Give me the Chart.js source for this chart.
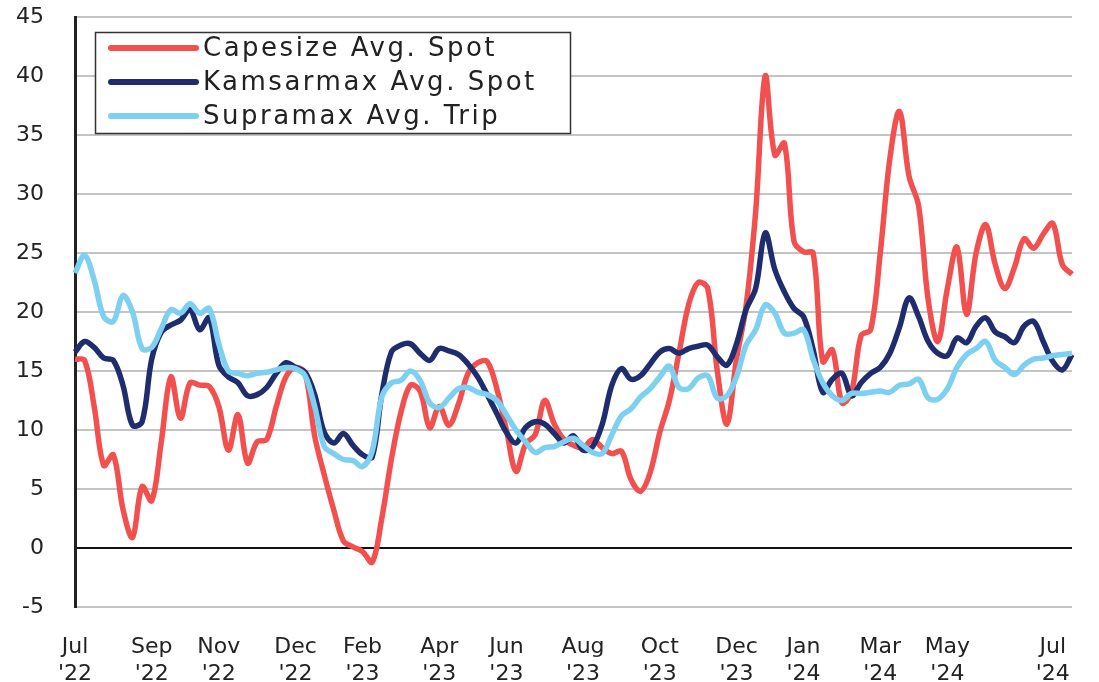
<!DOCTYPE html>
<html>
<head>
<meta charset="utf-8">
<script src="https://cdn.jsdelivr.net/npm/chart.js@4.4.1/dist/chart.umd.min.js"></script>
<style>
  html, body { margin: 0; padding: 0; background: #fff; }
  #wrap { width: 1099px; height: 682px; position: relative; }
</style>
</head>
<body>
<div id="wrap"><canvas id="chart"></canvas></div>
<script>
// weekly points, Jul '22 .. Jul '24
const capesize = [
  16.0, 15.9, 12.0, 7.0, 7.9, 3.3, 0.9, 5.2, 4.0, 9.0,
  14.5, 11.0, 14.0, 13.8, 13.7, 12.0, 8.3, 11.3, 7.2, 9.0,
  9.2, 12.0, 14.5, 15.3, 14.8, 9.5, 6.2, 3.2, 0.6, 0.1,
  -0.3, -1.2, 2.5, 7.5, 11.5, 13.8, 13.3, 10.2, 12.0, 10.4,
  12.2, 14.8, 15.7, 15.8, 13.5, 10.0, 6.5, 8.8, 9.6, 12.5,
  10.5, 9.2, 8.7, 8.5, 9.2, 8.5, 8.0, 8.2, 5.8, 4.8,
  6.4, 9.8, 12.5, 16.5, 20.6, 22.5, 22.0, 15.0, 10.5, 16.0,
  20.5, 28.5, 40.0, 33.3, 34.3, 26.0, 25.1, 25.0, 15.8, 16.8,
  12.3, 13.2, 18.0, 18.5, 25.0, 33.0, 37.0, 31.5, 29.0, 21.0,
  17.5, 22.0, 25.5, 19.8, 25.0, 27.4, 24.0, 22.0, 23.8, 26.2,
  25.4, 26.6, 27.5, 24.0, 23.2
];
const kamsarmax = [
  16.6, 17.5, 17.0, 16.1, 15.9, 13.8, 10.4, 10.7, 16.0, 18.3,
  18.9, 19.3, 20.2, 18.5, 19.5, 15.5, 14.5, 14.0, 12.9, 13.0,
  13.6, 14.8, 15.7, 15.3, 14.9, 13.0, 9.8, 8.9, 9.7, 8.7,
  7.9, 7.7, 13.0, 16.6, 17.2, 17.3, 16.5, 15.9, 16.9, 16.7,
  16.4, 15.6, 14.5, 13.0, 11.4, 9.8, 8.9, 10.2, 10.7, 10.5,
  9.7, 8.9, 9.5, 8.3, 8.6, 10.5, 13.8, 15.2, 14.3, 14.6,
  15.6, 16.6, 16.9, 16.5, 16.9, 17.1, 17.2, 16.2, 15.5, 17.3,
  20.2, 22.0, 26.7, 23.6, 21.7, 20.3, 19.6, 16.8, 13.2, 14.3,
  14.8, 12.9, 14.0, 14.8, 15.3, 16.5, 18.7, 21.2, 19.6, 17.5,
  16.5, 16.3, 17.8, 17.4, 18.8, 19.5, 18.3, 17.9, 17.4, 18.8,
  19.2, 17.5, 15.8, 15.1, 16.4
];
const supramax = [
  23.3, 24.8, 22.7, 19.6, 19.2, 21.4, 20.0, 16.9, 17.0, 18.6,
  20.2, 19.9, 20.7, 19.9, 20.3, 17.3, 15.0, 14.8, 14.6, 14.8,
  14.9, 15.1, 15.3, 15.2, 14.6, 12.0, 8.6, 8.0, 7.5, 7.4,
  6.9, 8.2, 12.8, 14.0, 14.2, 15.0, 14.2, 12.3, 11.9, 12.7,
  13.5, 13.6, 13.2, 13.0, 12.5, 11.3, 10.0, 9.0, 8.1, 8.5,
  8.6, 9.0, 9.3, 8.7, 8.1, 8.0, 9.6, 11.2, 11.8, 12.8,
  13.5, 14.5, 15.4, 13.6, 13.5, 14.4, 14.6, 12.7, 12.9, 14.5,
  17.2, 18.5, 20.6, 19.9, 18.2, 18.2, 18.5, 16.0, 14.0, 12.9,
  12.5, 13.1, 13.1, 13.2, 13.3, 13.2, 13.8, 13.9, 14.3, 12.7,
  12.6, 13.5, 15.3, 16.4, 16.9, 17.5, 15.9, 15.3, 14.7, 15.5,
  16.0, 16.1, 16.3, 16.4, 16.5
];
const seriesNames = ['Capesize Avg. Spot', 'Kamsarmax Avg. Spot', 'Supramax Avg. Trip'];
const seriesColors = ['#F24F4F', '#1F2D6E', '#7DD0F0'];

// x axis labels and the week they sit under
const tickText = [
  ['Jul', "'22"], ['Sep', "'22"], ['Nov', "'22"], ['Dec', "'22"], ['Feb', "'23"],
  ['Apr', "'23"], ['Jun', "'23"], ['Aug', "'23"], ['Oct', "'23"], ['Dec', "'23"],
  ['Jan', "'24"], ['Mar', "'24"], ['May', "'24"], ['Jul', "'24"]
];
const tickAt = [0, 8, 15, 23, 30, 38, 45, 53, 61, 69, 76, 84, 91, 102];

const weeks = capesize.map((_, i) => 'w' + i);

const FONT = 'DejaVu Sans';

const legendBox = {
  id: 'legendBox',
  afterDatasetsDraw(chart) {
    const ctx = chart.ctx;
    ctx.save();
    ctx.fillStyle = '#fff';
    ctx.fillRect(95, 32, 475, 101);
    ctx.strokeStyle = '#333';
    ctx.lineWidth = 1.5;
    ctx.strokeRect(95.5, 32.5, 475, 101);
    ctx.font = '26px "' + FONT + '"';
    if ('letterSpacing' in ctx) ctx.letterSpacing = '2.5px';
    ctx.textBaseline = 'middle';
    chart.data.datasets.forEach((ds, i) => {
      const y = 48 + i * 34;
      ctx.strokeStyle = ds.borderColor;
      ctx.lineWidth = 6;
      ctx.lineCap = 'round';
      ctx.beginPath();
      ctx.moveTo(111, y);
      ctx.lineTo(196, y);
      ctx.stroke();
      ctx.fillStyle = '#222';
      ctx.fillText(ds.label, 203, y + 1);
    });
    ctx.restore();
  }
};

const mk = (i, data, order) => ({
  label: seriesNames[i],
  data,
  borderColor: seriesColors[i],
  backgroundColor: seriesColors[i],
  borderWidth: 5.5,
  pointRadius: 0,
  tension: 0.35,
  order
});

new Chart(document.getElementById('chart'), {
  type: 'line',
  data: {
    labels: weeks,
    datasets: [mk(0, capesize, 3), mk(1, kamsarmax, 2), mk(2, supramax, 1)]
  },
  options: {
    responsive: true,
    maintainAspectRatio: false,
    animation: false,
    layout: { padding: { top: 17, right: 27, left: 0, bottom: 0 } },
    plugins: { legend: { display: false }, tooltip: { enabled: false } },
    scales: {
      x: {
        grid: { display: false },
        border: { display: false },
        afterFit(scale) { scale.height = 75; },
        afterBuildTicks(scale) { scale.ticks = tickAt.map(v => ({ value: v })); },
        ticks: {
          autoSkip: false,
          maxRotation: 0,
          padding: 19,
          color: '#222',
          font: { family: FONT, size: 22, lineHeight: 1.22 },
          callback(value) {
            const k = tickAt.indexOf(value);
            return k < 0 ? null : tickText[k];
          }
        }
      },
      y: {
        min: -5,
        max: 45,
        afterFit(scale) {
          scale.width = 75;
          scale.paddingTop = 0;
          scale.paddingBottom = 0;
        },
        grid: {
          drawTicks: false,
          lineWidth: 2,
          color: ctx => ctx.tick && ctx.tick.value === 0 ? '#111' : '#c4c4c4'
        },
        border: { display: true, color: '#222', width: 3 },
        ticks: {
          stepSize: 5,
          padding: 31,
          color: '#222',
          font: { family: FONT, size: 22 }
        }
      }
    }
  },
  plugins: [legendBox]
});
</script>
</body>
</html>
